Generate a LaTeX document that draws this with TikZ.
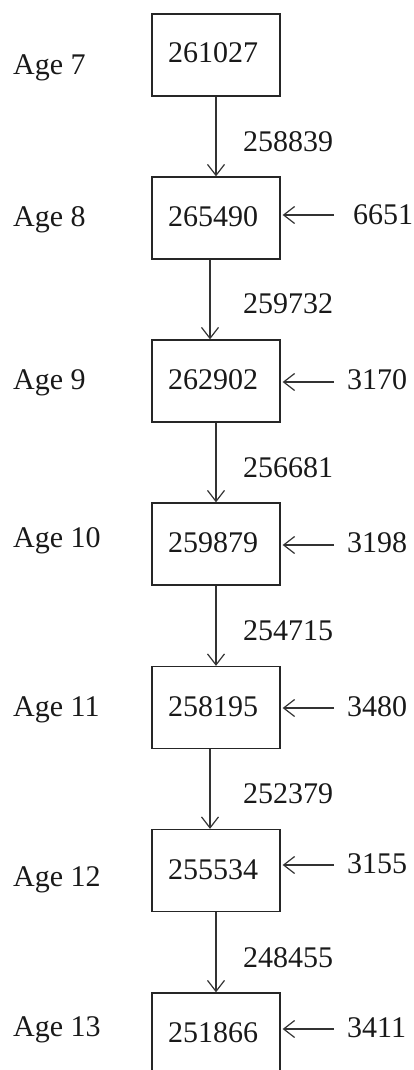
\documentclass[tikz,border=0pt]{standalone}
\usepackage{fontspec}
\setmainfont{Liberation Serif}
\usetikzlibrary{arrows.meta}
\begin{document}
\begin{tikzpicture}[x=1pt,y=-1pt,
  every node/.style={font=\fontsize{30}{36}\selectfont, text=black!90, inner sep=0pt, text height=20pt, text depth=0pt},
  cohort/.style={draw=black!85, line width=1.3pt, minimum width=128pt, minimum height=82pt},
  arr/.style={draw=black!80, line width=1.2pt, -{Straight Barb[length=11pt,width=17pt,line width=1.2pt]}},
  lab/.style={anchor=west}]
\useasboundingbox (0,0) rectangle (414,1070);
\clip (0,0) rectangle (414,1070);
% boxes
\node[cohort] (b1) at (216,55) {};
\node[cohort] (b2) at (216,218) {};
\node[cohort] (b3) at (216,381) {};
\node[cohort] (b4) at (216,544) {};
\node[cohort] (b5) at (216,707.5) {};
\node[cohort] (b6) at (216,870.5) {};
\node[cohort] (b7) at (216,1034) {};
% box texts
\node (t1) at (213,53) {261027};
\node (t2) at (213,216) {265490};
\node (t3) at (213,379) {262902};
\node (t4) at (213,542) {259879};
\node (t5) at (213,706) {258195};
\node (t6) at (213,869) {255534};
\node (t7) at (213,1032) {251866};
% ages
\node[lab] (a7) at (13,65) {Age 7};
\node[lab] (a8) at (13,216) {Age 8};
\node[lab] (a9) at (13,379) {Age 9};
\node[lab] (a10) at (13,537) {Age 10};
\node[lab] (a11) at (13,706) {Age 11};
\node[lab] (a12) at (13,876) {Age 12};
\node[lab] (a13) at (13,1026) {Age 13};
% vertical arrows
\draw[arr] (b1.south) -- (b2.north);
\draw[arr] ([xshift=-6pt]b2.south) -- ([xshift=-6pt]b3.north);
\draw[arr] (b3.south) -- (b4.north);
\draw[arr] (b4.south) -- (b5.north);
\draw[arr] ([xshift=-6pt]b5.south) -- ([xshift=-6pt]b6.north);
\draw[arr] (b6.south) -- (b7.north);
% vertical arrow labels
\node[lab] (v1) at (243,141) {258839};
\node[lab] (v2) at (243,303) {259732};
\node[lab] (v3) at (243,467) {256681};
\node[lab] (v4) at (243,630) {254715};
\node[lab] (v5) at (243,793) {252379};
\node[lab] (v6) at (243,957) {248455};
% side inflows
\node[lab] (s2) at (353,214) {6651};
\node[lab] (s3) at (347,379) {3170};
\node[lab] (s4) at (347,542) {3198};
\node[lab] (s5) at (347,706) {3480};
\node[lab] (s6) at (347,863) {3155};
\node[lab] (s7) at (347,1027) {3411};
\coordinate (c2) at (334,215);
\coordinate (c3) at (334,382);
\coordinate (c4) at (334,545);
\coordinate (c5) at (334,708);
\coordinate (c6) at (334,865);
\coordinate (c7) at (334,1029);
\draw[arr, shorten >=2pt] (c2) -- (c2 -| b2.east);
\draw[arr, shorten >=2pt] (c3) -- (c3 -| b3.east);
\draw[arr, shorten >=2pt] (c4) -- (c4 -| b4.east);
\draw[arr, shorten >=2pt] (c5) -- (c5 -| b5.east);
\draw[arr, shorten >=2pt] (c6) -- (c6 -| b6.east);
\draw[arr, shorten >=2pt] (c7) -- (c7 -| b7.east);
\end{tikzpicture}
\end{document}
